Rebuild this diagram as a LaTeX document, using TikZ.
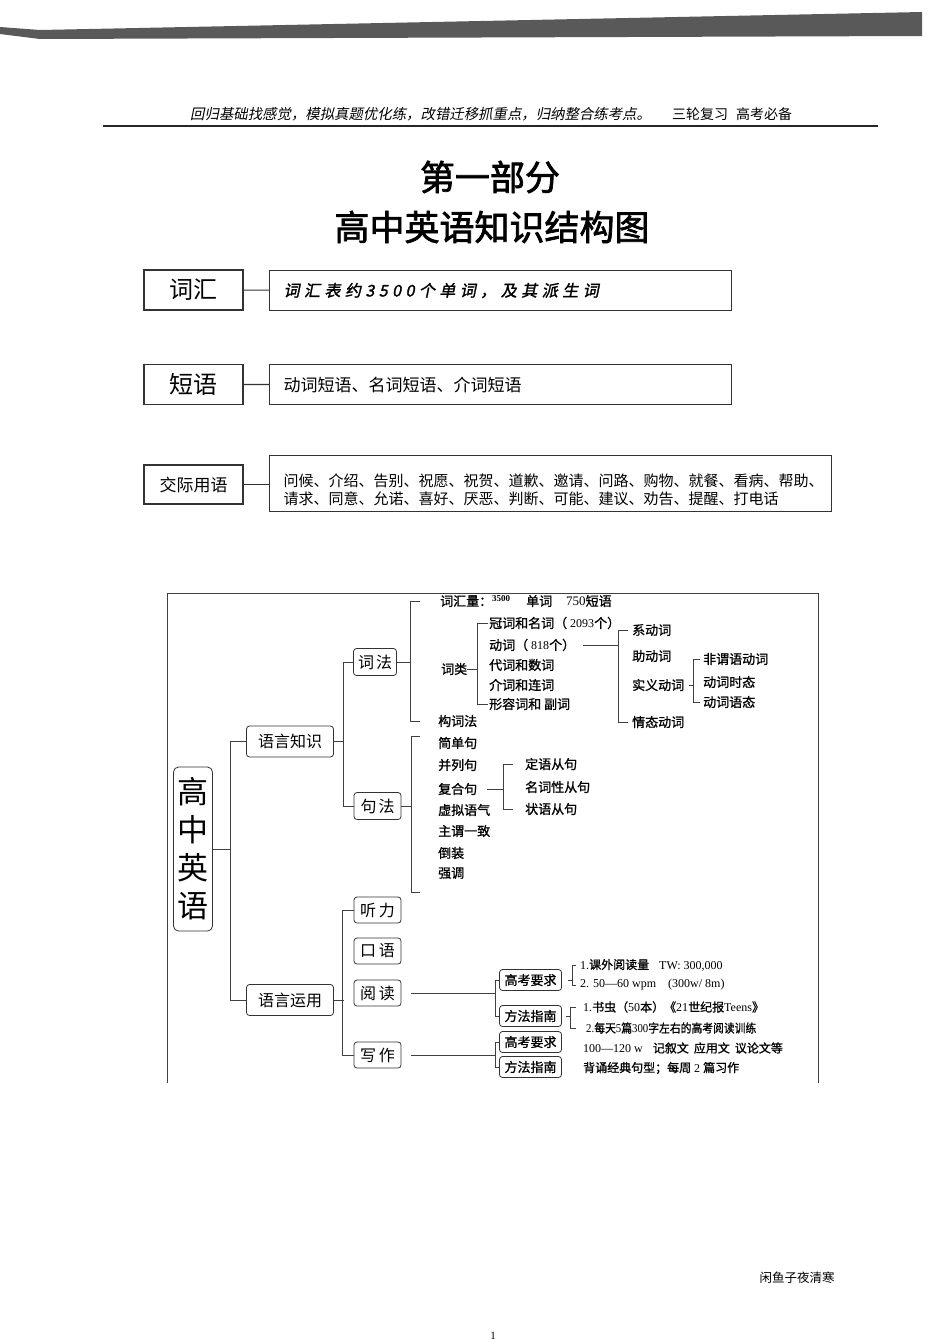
\documentclass[tikz,border=0pt]{standalone}
\usepackage{fontspec}
\setmainfont{Noto Sans CJK SC}
\newfontfamily\hdfont[FakeSlant=0.2]{Noto Sans CJK SC}
\newfontfamily\ttlfont[FakeBold=2]{Noto Sans CJK SC}
\newfontfamily\treefont[FakeBold=1]{Noto Sans CJK SC}
\newfontfamily\handfont[FakeBold=1.5,FakeSlant=0.2,LetterSpace=28]{Noto Sans CJK SC}
\newfontfamily\latfont{Liberation Serif}
\newcommand{\fsz}[1]{\fontsize{#1}{#1}\selectfont}
\usetikzlibrary{positioning}

\begin{document}
\begin{tikzpicture}[x=1pt, y=-1pt,
  rowlabel/.style={
    draw=black!80,
    line width=1.1pt,
    minimum width=99pt,
    minimum height=40pt,
    inner sep=0pt
  },
  rowbody/.style={
    draw=black!80,
    line width=1.1pt,
    anchor=north west,
    minimum height=40pt,
    align=left,
    inner xsep=14pt,
    inner ysep=0pt
  },
  mapbox/.style={
    draw=black!80,
    line width=0.8pt,
    rounded corners=3pt,
    inner xsep=4pt,
    inner ysep=0pt,
    font=\fsz{16}
  },
  subbox/.style={mapbox, minimum width=62pt, minimum height=21pt, font=\treefont\fsz{13}},
  item/.style={anchor=west, inner sep=0pt, font=\treefont\fsz{13}},
  readitem/.style={anchor=west, inner sep=0pt, font=\treefont\fsz{12}},
  link/.style={draw=black!75, line width=0.8pt},
  rowlink/.style={draw=black!80, line width=1.1pt}
]
  \useasboundingbox (0,0) rectangle (950,1344);
  \fill[black!65] (0,27) -- (40,30) -- (922,12) -- (922,36) -- (40,39) -- (0,34) -- cycle;

  \node[anchor=west, inner sep=0pt, font=\hdfont\fsz{14.4}] (motto) at (190,114)
    {回归基础找感觉，模拟真题优化练，改错迁移抓重点，归纳整合练考点。};
  \node[anchor=west, inner sep=0pt, font=\fsz{14}] (slogan) at (672,114) {三轮复习\hspace{8pt}高考必备};
  \draw[line width=1.6pt, black!85] (103,126) -- (878,126);

  \node[font=\ttlfont\fsz{35}, inner sep=0pt] (part) at (490,177) {第一部分};
  \node[font=\ttlfont\fsz{35}, inner sep=0pt] (title) at (492,227) {高中英语知识结构图};

  \node[rowlabel, font=\fsz{24}] (vocab) at (193.5,290) {词汇};
  \node[rowbody, minimum width=462pt, text width=434pt, font=\handfont\fsz{16}] (vocabtxt) at (269,270)
    {词汇表约3500个单词，及其派生词};
  \draw[rowlink] (vocab) -- (vocabtxt);

  \node[rowlabel, font=\fsz{24}] (phrase) at (193.5,384.5) {短语};
  \node[rowbody, minimum width=462pt, text width=434pt, font=\fsz{17}] (phrasetxt) at (269,364)
    {动词短语、名词短语、介词短语};
  \draw[rowlink] (phrase) -- (phrasetxt);

  \node[rowlabel, minimum height=39pt, font=\fsz{17}] (talk) at (193.5,484.5) {交际用语};
  \node[rowbody, minimum width=562pt, minimum height=56pt, text width=534pt,
    font=\fontsize{15}{18}\selectfont] (talktxt) at (269,455)
    {\rule{0pt}{25pt}问候、介绍、告别、祝愿、祝贺、道歉、邀请、问路、购物、就餐、看病、帮助、\\
     请求、同意、允诺、喜好、厌恶、判断、可能、建议、劝告、提醒、打电话};
  \draw[rowlink] (talk.east) -- (talk.east -| talktxt.west);

  \draw[link] (167,1083) -- (167,593) -- (818,593) -- (818,1083);

  \node[mapbox, rounded corners=5pt, align=center, minimum width=39pt, minimum height=164pt,
    inner xsep=3pt, font=\fontsize{31}{38}\selectfont] (root) at (193,849) {高\\中\\英\\语};

  \node[mapbox, minimum width=87pt, minimum height=31pt] (know) at (290,741.5) {语言知识};
  \node[mapbox, minimum width=87pt, minimum height=31pt] (use) at (290,1000) {语言运用};
  \draw[link] (root.east) -- ++(17,0);
  \draw[link] (know.west) -- ++(-16,0) |- (use.west);

  \node[mapbox, minimum width=43pt, minimum height=27pt] (morph) at (375,662) {词\hspace{2pt}法};
  \node[mapbox, minimum width=47pt, minimum height=27pt] (synt) at (377.5,806) {句\hspace{2pt}法};
  \draw[link] (know.east) -- ++(10,0);
  \draw[link] (morph.west) -- ++(-10,0) |- (synt.west);

  \node[mapbox, minimum width=47pt, minimum height=26pt] (listen) at (377.5,910) {听\hspace{3pt}力};
  \node[mapbox, minimum width=47pt, minimum height=26pt] (speak) at (377.5,951) {口\hspace{3pt}语};
  \node[mapbox, minimum width=47pt, minimum height=26pt] (read) at (377.5,993) {阅\hspace{3pt}读};
  \node[mapbox, minimum width=47pt, minimum height=26pt] (write) at (377.5,1055) {写\hspace{3pt}作};
  \draw[link] (use.east) -- ++(10,0);
  \draw[link] (listen.west) -- ++(-11,0) |- (write.west);

  \node[item] (amount) at (440,601)
    {词汇量：\raisebox{4pt}{\latfont\bfseries\fsz{9}3500}\hspace{16pt}单词\hspace{14pt}{\latfont 750}短语};
  \node[item] (wclass) at (441,669) {词类};
  \node[item] (wform) at (438,721) {构词法};
  \draw[link] ([xshift=-20pt]amount.west) -- ++(-10,0) |- ([xshift=-18pt]wform.west);
  \draw[link] (morph.east) -- ([xshift=-28pt]wform.west |- morph.east);

  \node[item] (noun) at (489,623) {冠词和名词（{\latfont\fsz{12} 2093}个）};
  \node[item] (verb) at (489,645) {动词（{\latfont\fsz{12} 818}个）};
  \node[item] (pron) at (489,665) {代词和数词};
  \node[item] (prep) at (489,685) {介词和连词};
  \node[item] (adj) at (489,704) {形容词和 副词};
  \draw[link] ([xshift=-1pt]noun.west) -- ++(-11,0) |- ([xshift=-1pt]adj.west);
  \draw[link] (wclass.east) -- ([xshift=-12pt]noun.west |- wclass.east);

  \node[item] (lv) at (632,630) {系动词};
  \node[item] (aux) at (632,656) {助动词};
  \node[item] (notional) at (632,685) {实义动词};
  \node[item] (modal) at (632,722) {情态动词};
  \draw[link] ([xshift=-4pt]lv.west) -- ++(-10,0) |- ([xshift=-4pt]modal.west);
  \draw[link] ([xshift=8pt]verb.east) -- ([xshift=-14pt]lv.west |- verb.east);

  \node[item] (nonfin) at (703,659) {非谓语动词};
  \node[item] (tense) at (703,682) {动词时态};
  \node[item] (voice) at (703,702) {动词语态};
  \draw[link] ([xshift=-3pt]nonfin.west) -- ++(-7,0) |- ([xshift=-3pt]voice.west);
  \draw[link] ([xshift=5pt]notional.east) -- ([xshift=-10pt]nonfin.west |- notional.east);

  \node[item] (simple) at (438,743) {简单句};
  \node[item] (compound) at (438,765) {并列句};
  \node[item] (complex) at (438,789) {复合句};
  \node[item] (subj) at (438,810) {虚拟语气};
  \node[item] (agree) at (438,831) {主谓一致};
  \node[item] (invert) at (438,853) {倒装};
  \node[item] (emph) at (438,873) {强调};
  \draw[link] ([shift={(-18,-7)}]simple.west) -- ++(-9,0) |- ([shift={(-18,19)}]emph.west);
  \draw[link] (synt.east) -- ([xshift=-27pt]simple.west |- synt.east);

  \node[item] (attrc) at (525,764) {定语从句};
  \node[item] (nounc) at (525,787) {名词性从句};
  \node[item] (advc) at (525,809) {状语从句};
  \draw[link] ([xshift=-12pt]attrc.west) -- ++(-10,0) |- ([xshift=-12pt]advc.west);
  \draw[link] ([xshift=10pt]complex.east) -- ([xshift=-22pt]attrc.west |- complex.east);

  \node[subbox] (rreq) at (530.5,980) {高考要求};
  \node[subbox] (rmeth) at (530.5,1016) {方法指南};
  \node[subbox] (wreq) at (530.5,1042) {高考要求};
  \node[subbox] (wmeth) at (530.5,1067) {方法指南};
  \draw[link] ([xshift=10pt]read.east) -- ([xshift=-4pt]rreq.west |- read.east);
  \draw[link] (rreq.west) -- ++(-4,0) |- (rmeth.west);
  \draw[link] ([xshift=10pt]write.east) -- ([xshift=-4pt]wreq.west |- write.east);
  \draw[link] (wreq.west) -- ++(-4,0) |- (wmeth.west);

  \node[readitem] (tw) at (580,965) {{\latfont 1.}课外阅读量\hspace{10pt}{\latfont TW: 300,000}};
  \node[readitem] (wpm) at (580,985) {\latfont 2. 50—60 wpm\hspace{12pt}(300w/ 8m)};
  \draw[link] ([xshift=-4pt]tw.west) -- ++(-4,0) |- ([xshift=-4pt]wpm.west);
  \draw[link] ([xshift=6pt]rreq.east) -- ([xshift=-8pt]tw.west |- rreq.east);

  \node[readitem] (teens) at (583,1007) {{\latfont 1.}书虫（{\latfont 50}本）《{\latfont 21}世纪报{\latfont Teens}》};
  \node[readitem] (daily) at (586,1028)
    {\scalebox{0.9}[1]{{\latfont 2.}每天{\latfont 5}篇{\latfont 300}字左右的高考阅读训练}};
  \draw[link] ([xshift=-7pt]teens.west) -- ++(-6,0) |- ([xshift=-10pt]daily.west);
  \draw[link] ([xshift=4pt]rmeth.east) -- ([xshift=-13pt]teens.west |- rmeth.east);

  \node[readitem] (genre) at (583,1048)
    {{\latfont 100—120 w}\hspace{10pt}记叙文\hspace{5pt}应用文\hspace{5pt}议论文等};
  \node[readitem] (recite) at (583,1068) {背诵经典句型；每周{\latfont\ 2\ }篇习作};

  \node[font=\fsz{12.5}, inner sep=0pt] (owner) at (797,1278) {闲鱼子夜清寒};
  \node[font=\latfont\fsz{11}, inner sep=0pt] (pageno) at (493,1336) {1};
\end{tikzpicture}
\end{document}
